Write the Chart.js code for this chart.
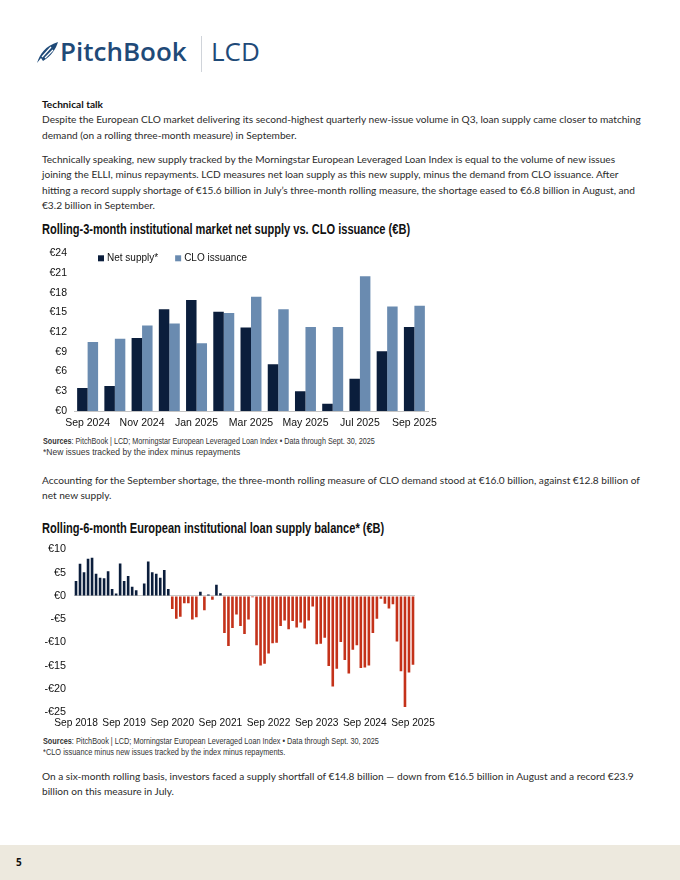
<!DOCTYPE html>
<html>
<head>
<meta charset="utf-8">
<script src="https://cdn.jsdelivr.net/npm/chart.js@4.4.1/dist/chart.umd.min.js"></script>
<style>
  html, body { margin: 0; padding: 0; background: #fff; }
  #page { position: relative; width: 680px; height: 880px; overflow: hidden; font-family: Lato, "Open Sans", sans-serif; color: #2b2b2b; }
  .abs { position: absolute; white-space: nowrap; }
  .txt { left: 42px; font-size: 10.15px; line-height: 15.3px; }
  .txt b { font-weight: 700; color: #111; }
  .ctitle { left: 42px; font-family: "Liberation Sans", Arial, sans-serif; font-weight: bold; font-size: 14px; color: #111; line-height: 16px;
            transform: scaleX(0.79); transform-origin: left top; }
  .src { left: 43px; font-family: "Liberation Sans", Arial, sans-serif; font-size: 8.6px; line-height: 11px; color: #333; transform-origin: left top; }
  .logo { font-family: "Open Sans", sans-serif; font-weight: 600; color: #1f4a78; font-size: 26px; line-height: 30px; }
  canvas { position: absolute; }
  #footer { position: absolute; left: 0; top: 845px; width: 680px; height: 35px; background: #ede9de; }
</style>
</head>
<body>
<div id="page">
  <!-- header logo -->
  <svg class="abs" style="left:36px;top:41px" width="24" height="23" viewBox="0 0 24 23">
    <path d="M1 22 C4 13 9 5 22 1 C20 8 15 15 7 20 L5 17 Z" fill="#1f4a78"/>
    <path d="M6 16 L15 6 M9 17 L17 9" stroke="#fff" stroke-width="1.3" fill="none"/>
  </svg>
  <div class="abs logo" style="left:60px;top:36px;">PitchBook</div>
  <div class="abs" style="left:201px;top:36px;width:1px;height:36px;background:#d0d4da;"></div>
  <div class="abs logo" style="left:211px;top:36px;font-weight:500;">LCD</div>

  <div class="abs txt" style="top:97px;"><b>Technical talk</b><br>
Despite the European CLO market delivering its second-highest quarterly new-issue volume in Q3, loan supply came closer to matching<br>
demand (on a rolling three-month measure) in September.</div>

  <div class="abs txt" style="top:152px;">Technically speaking, new supply tracked by the Morningstar European Leveraged Loan Index is equal to the volume of new issues<br>
joining the ELLI, minus repayments. LCD measures net loan supply as this new supply, minus the demand from CLO issuance. After<br>
hitting a record supply shortage of €15.6 billion in July’s three-month rolling measure, the shortage eased to €6.8 billion in August, and<br>
€3.2 billion in September.</div>

  <div class="abs ctitle" style="top:221px;">Rolling-3-month institutional market net supply vs. CLO issuance (€B)</div>
  <canvas id="c1" style="left:30px;top:240px;" width="420" height="192"></canvas>
  <div class="abs src" style="top:436px;transform:scaleX(0.84);"><b>Sources</b>: PitchBook | LCD; Morningstar European Leveraged Loan Index • Data through Sept. 30, 2025</div>
  <div class="abs src" style="top:447px;transform:scaleX(0.99);">*New issues tracked by the index minus repayments</div>

  <div class="abs txt" style="top:473px;">Accounting for the September shortage, the three-month rolling measure of CLO demand stood at €16.0 billion, against €12.8 billion of<br>
net new supply.</div>

  <div class="abs ctitle" style="top:520px;">Rolling-6-month European institutional loan supply balance* (€B)</div>
  <canvas id="c2" style="left:30px;top:535px;" width="420" height="200"></canvas>
  <div class="abs src" style="top:736px;transform:scaleX(0.85);"><b>Sources</b>: PitchBook | LCD; Morningstar European Leveraged Loan Index • Data through Sept. 30, 2025</div>
  <div class="abs src" style="top:747px;transform:scaleX(0.86);">*CLO issuance minus new issues tracked by the index minus repayments.</div>

  <div class="abs txt" style="top:769px;">On a six-month rolling basis, investors faced a supply shortfall of €14.8 billion — down from €16.5 billion in August and a record €23.9<br>
billion on this measure in July.</div>

  <div id="footer"><div class="abs" style="left:16px;top:10px;font-family:'Open Sans',sans-serif;font-weight:700;font-size:10px;color:#111;">5</div></div>
</div>

<script>
// chart 1: rolling 3-month, Sep 2024 - Sep 2025 (EUR bn)
const months1 = ['Sep 2024', 'Oct 2024', 'Nov 2024', 'Dec 2024', 'Jan 2025', 'Feb 2025', 'Mar 2025',
                 'Apr 2025', 'May 2025', 'Jun 2025', 'Jul 2025', 'Aug 2025', 'Sep 2025'];
const netSupply   = [3.5, 3.8, 11.1, 15.5, 16.9, 15.1, 12.7, 7.1, 3.0, 1.1, 4.9, 9.1, 12.8];
const cloIssuance = [10.5, 11.0, 13.0, 13.3, 10.3, 14.9, 17.4, 15.5, 12.8, 12.8, 20.5, 15.9, 16.0];
const yTicks1 = [0, 3, 6, 9, 12, 15, 18, 21, 24];

// chart 2: rolling 6-month supply balance, Sep 2018 - Sep 2025 (EUR bn)
const tickLabels2 = ['Sep 2018', 'Sep 2019', 'Sep 2020', 'Sep 2021', 'Sep 2022', 'Sep 2023', 'Sep 2024', 'Sep 2025'];
const balance6m = [
  3.2, 6.9, 5.1, 8.0, 8.2, 4.8, 3.9, 3.8, 5.3, 1.5, 0.5, 7.0,          // Sep 18 - Aug 19
  3.2, 4.3, 2.0, 1.2, 0.0, 2.7, 7.4, 5.1, 4.8, 3.9, 5.6, 1.5,          // Sep 19 - Aug 20
  -2.8, -4.9, -4.5, -1.6, -1.6, -5.1, -4.6, 0.9, -3.1, 0.3, -0.8, 2.4, // Sep 20 - Aug 21
  0.6, -8.0, -10.8, -6.9, -4.0, -6.5, -8.2, -5.1, -0.3, -10.6, -15.0, -14.6, // Sep 21 - Aug 22
  -12.4, -10.2, -10.1, -6.5, -5.3, -7.2, -5.4, -6.8, -5.7, -7.0, -5.3, -2.3, // Sep 22 - Aug 23
  -10.4, -10.3, -9.0, -15.1, -19.5, -15.7, -9.9, -13.8, -16.7, -11.6, -10.6, -15.5, // Sep 23 - Aug 24
  -15.4, -15.0, -8.0, -4.9, -0.6, -1.7, -2.7, -1.8, -9.8, -16.2, -23.9, -16.5, // Sep 24 - Aug 25
  -14.8                                                                 // Sep 25
];
const yTicks2 = [-25, -20, -15, -10, -5, 0, 5, 10];

const NAVY = '#0b1e3c';
const STEEL = '#6a8bb0';
const RED = '#c4321a';
const SANS = '"Liberation Sans", Arial, sans-serif';

// month labels for chart 2, counted on from the first tick label
const monNames = ['Jan','Feb','Mar','Apr','May','Jun','Jul','Aug','Sep','Oct','Nov','Dec'];
const months2 = balance6m.map((_, i) => {
  const m = 8 + i;
  return monNames[m % 12] + ' ' + (2018 + Math.floor(m / 12));
});

function euro(v) { return (v < 0 ? '-€' : '€') + Math.abs(v); }

// legend drawn inside the plot, top left
const insideLegend = {
  id: 'insideLegend',
  afterDraw(chart, args, opts) {
    const { ctx, chartArea } = chart;
    let x = chartArea.left + opts.x;
    const y = chartArea.top + opts.y;
    ctx.save();
    ctx.font = opts.font;
    ctx.textBaseline = 'middle';
    chart.data.datasets.forEach(ds => {
      ctx.fillStyle = ds.backgroundColor;
      ctx.fillRect(x, y - opts.box / 2, opts.box, opts.box);
      x += opts.box + 3;
      ctx.fillStyle = opts.color;
      ctx.fillText(ds.label, x, y);
      x += ctx.measureText(ds.label).width + opts.gap;
    });
    ctx.restore();
  }
};

new Chart(document.getElementById('c1'), {
  type: 'bar',
  data: {
    labels: months1,
    datasets: [
      { label: 'Net supply*', data: netSupply, backgroundColor: NAVY },
      { label: 'CLO issuance', data: cloIssuance, backgroundColor: STEEL }
    ]
  },
  options: {
    responsive: false,
    animation: false,
    layout: { padding: { top: 10, right: 22, bottom: 0, left: 0 } },
    datasets: { bar: { categoryPercentage: 0.77, barPercentage: 1 } },
    plugins: {
      legend: { display: false },
      tooltip: { enabled: false },
      insideLegend: { x: 24, y: 5, box: 6, gap: 17, color: '#111', font: '10px ' + SANS }
    },
    scales: {
      x: {
        grid: { display: false, drawTicks: false },
        border: { display: true, color: '#c4c4c4' },
        ticks: {
          autoSkip: false, maxRotation: 0, minRotation: 0, padding: 6,
          color: '#111', font: { family: SANS, size: 10.5 },
          callback: (v, i) => (i % 2 === 0 ? months1[i] : '')
        },
        afterFit(s) { s.height = 21; }
      },
      y: {
        min: yTicks1[0], max: yTicks1[yTicks1.length - 1],
        grid: { display: false, drawTicks: false },
        border: { display: false },
        ticks: { stepSize: 3, padding: 7, color: '#111', font: { family: SANS, size: 10.5 }, callback: v => euro(v) },
        afterFit(s) { s.width = 44; }
      }
    }
  },
  plugins: [insideLegend]
});

new Chart(document.getElementById('c2'), {
  type: 'bar',
  data: {
    labels: months2,
    datasets: [{
      label: 'Supply balance',
      data: balance6m,
      backgroundColor: balance6m.map(v => (v >= 0 ? NAVY : RED))
    }]
  },
  options: {
    responsive: false,
    animation: false,
    layout: { padding: { top: 10, right: 35, bottom: 0, left: 0 } },
    datasets: { bar: { categoryPercentage: 1, barPercentage: 0.65 } },
    plugins: { legend: { display: false }, tooltip: { enabled: false } },
    scales: {
      x: {
        grid: { display: false, drawTicks: false },
        border: { display: false },
        ticks: {
          autoSkip: false, maxRotation: 0, minRotation: 0, padding: 5,
          color: '#111', font: { family: SANS, size: 10.2 },
          callback: (v, i) => (tickLabels2.includes(months2[i]) ? months2[i] : '')
        },
        afterFit(s) { s.height = 23; }
      },
      y: {
        min: yTicks2[0], max: yTicks2[yTicks2.length - 1],
        grid: { drawTicks: false, color: c => (c.tick.value === 0 ? '#c8c8c8' : 'rgba(0,0,0,0)') },
        border: { display: false },
        ticks: { stepSize: 5, padding: 8, color: '#111', font: { family: SANS, size: 10.8 }, callback: v => euro(v) },
        afterFit(s) { s.width = 44; }
      }
    }
  }
});
</script>
</body>
</html>
